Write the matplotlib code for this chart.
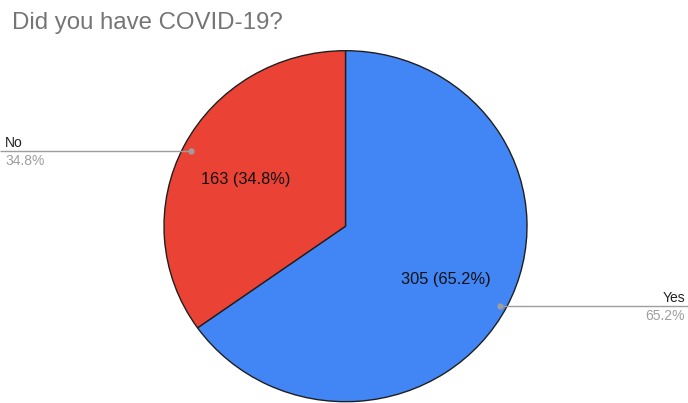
import numpy as np
import matplotlib
matplotlib.use("Agg")
import matplotlib.pyplot as plt
import matplotlib.transforms as mtransforms

plt.rcParams['font.family'] = ['Liberation Sans', 'DejaVu Sans']

title = "Did you have COVID-19?"
categories = ["Yes", "No"]
counts = [305, 163]
colors = ["#4285F4", "#EA4335"]

W, H = 688, 403
fig = plt.figure(figsize=(W / 100, H / 100), dpi=100)

# pie axes placement in pixels
cx, cy = 345.5, 226.2
rx, ry = 181.5, 175.5
ax = fig.add_axes([(cx - rx) / W, (H - cy - ry) / H, 2 * rx / W, 2 * ry / H])

total = sum(counts)

def fmt(p):
    n = int(round(p * total / 100.0))
    return f"{n} ({p:.1f}%)"

wedges, texts, autotexts = ax.pie(
    counts, colors=colors, startangle=90, counterclock=False,
    autopct=fmt, pctdistance=0.62, radius=1.0,
    wedgeprops=dict(edgecolor="#1f1f1f", linewidth=1.0),
    textprops=dict(fontsize=11.8, color="#111111"))
ax.set_xlim(-1, 1)
ax.set_ylim(-1, 1)
ax.set_aspect('auto')
ax.axis('off')

down = mtransforms.ScaledTranslation(0, -3.5 / 100, fig.dpi_scale_trans)
for t in autotexts:
    t.set_transform(ax.transData + down)

fig.text(12 / W, 1 - 23 / H, title, fontsize=17.3, color="#757575",
         ha='left', va='center')

dot_shift = mtransforms.ScaledTranslation(0, -2.5 / 100, fig.dpi_scale_trans)
blend = mtransforms.blended_transform_factory(fig.transFigure, ax.transData) + dot_shift
grey = "#9e9e9e"
for w, cat, c in zip(wedges, categories, counts):
    mid = np.deg2rad((w.theta1 + w.theta2) / 2.0)
    r = 0.96
    x, y = r * np.cos(mid), r * np.sin(mid)
    pct = f"{100.0 * c / total:.1f}%"
    if x < 0:
        fx_text, ha = 5 / W, 'left'
        xe = -(cx) / rx
    else:
        fx_text, ha = (W - 3) / W, 'right'
        xe = (W - cx) / rx
    ax.plot([x, xe], [y, y], color=grey, lw=1.0, clip_on=False,
            solid_capstyle='butt', transform=ax.transData + dot_shift)
    ax.plot([x], [y], 'o', color=grey, ms=3.5, clip_on=False,
            transform=ax.transData + dot_shift)
    ax.annotate(cat, xy=(fx_text, y), xycoords=blend, xytext=(0, 3.0),
                textcoords='offset points', ha=ha, va='baseline',
                fontsize=10, color="#222222")
    ax.annotate(pct, xy=(fx_text, y), xycoords=blend, xytext=(0, -2.0),
                textcoords='offset points', ha=ha, va='top',
                fontsize=10, color=grey)

fig.savefig("out.png", dpi=100)
